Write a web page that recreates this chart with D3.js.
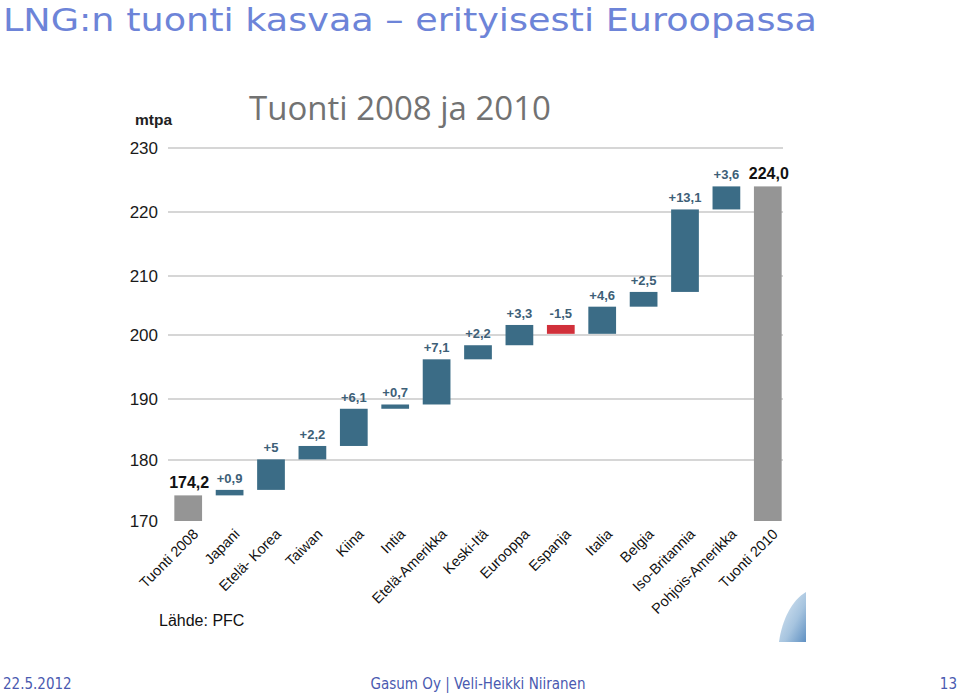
<!DOCTYPE html>
<html>
<head>
<meta charset="utf-8">
<script src="https://cdn.jsdelivr.net/npm/d3@7"></script>
<style>
  body { margin: 0; background: #fff; }
  svg { display: block; }
</style>
</head>
<body>
<svg id="chart" width="960" height="694"></svg>
<script>
// waterfall data
var categories = ['Tuonti 2008', 'Japani', 'Etelä- Korea', 'Taiwan', 'Kiina', 'Intia',
    'Etelä-Amerikka', 'Keski-Itä', 'Eurooppa', 'Espanja', 'Italia', 'Belgia',
    'Iso-Britannia', 'Pohjois-Amerikka', 'Tuonti 2010'];
var changes = [174.2, 0.9, 5, 2.2, 6.1, 0.7, 7.1, 2.2, 3.3, -1.5, 4.6, 2.5, 13.1, 3.6, 224.0];
var kinds = ['total', 'up', 'up', 'up', 'up', 'up', 'up', 'up', 'up', 'down', 'up', 'up', 'up', 'up', 'total'];
var labels = ['174,2', '+0,9', '+5', '+2,2', '+6,1', '+0,7', '+7,1', '+2,2', '+3,3', '-1,5',
    '+4,6', '+2,5', '+13,1', '+3,6', '224,0'];
var yTicks = [170, 180, 190, 200, 210, 220, 230];

var colors = { total: '#959595', up: '#3b6c86', down: '#d1303a' };

var svg = d3.select('#chart');

// the picture's axis is slightly uneven, so map it piece by piece
var y = d3.scaleLinear()
    .domain(yTicks)
    .range([521, 460, 399, 335, 276, 212, 148]);

var x = d3.scaleBand()
    .domain(categories)
    .range([167.5, 788.5])
    .paddingInner(0.33)
    .paddingOuter(0.165);

// running totals
var bars = [];
var run = 0;
categories.forEach(function(c, i) {
    var lo, hi;
    if (kinds[i] === 'total') {
        lo = 170; hi = changes[i]; run = changes[i];
    } else {
        var next = run + changes[i];
        lo = Math.min(run, next); hi = Math.max(run, next);
        run = next;
    }
    bars.push({ cat: c, lo: lo, hi: hi, kind: kinds[i], label: labels[i] });
});

// titles
svg.append('text')
    .attr('x', 3).attr('y', 31)
    .attr('font-family', 'DejaVu Sans')
    .attr('font-size', 32)
    .attr('textLength', 814)
    .attr('lengthAdjust', 'spacingAndGlyphs')
    .attr('fill', '#6d84d8')
    .text('LNG:n tuonti kasvaa – erityisesti Euroopassa');

svg.append('text')
    .attr('x', 249).attr('y', 120)
    .attr('font-family', 'Open Sans, sans-serif')
    .attr('font-size', 33)
    .attr('fill', '#727272')
    .text('Tuonti 2008 ja 2010');

svg.append('text')
    .attr('x', 135).attr('y', 125)
    .attr('font-family', 'Liberation Sans, Arial')
    .attr('font-size', 15.5)
    .attr('font-weight', 'bold')
    .attr('fill', '#222')
    .text('mtpa');

// grid
svg.append('g')
    .selectAll('line')
    .data(yTicks.slice(1))
    .join('line')
    .attr('x1', 168).attr('x2', 783)
    .attr('y1', function(d) { return y(d); })
    .attr('y2', function(d) { return y(d); })
    .attr('stroke', '#c8c8c8')
    .attr('stroke-width', 1.5);

var yAxis = svg.append('g')
    .attr('transform', 'translate(160,0)')
    .call(d3.axisLeft(y).tickValues(yTicks).tickSize(0).tickPadding(2));
yAxis.select('.domain').remove();
yAxis.selectAll('text')
    .attr('font-family', 'Liberation Sans, Arial')
    .attr('font-size', 17)
    .attr('fill', '#1a1a1a');

// bars
svg.append('g')
    .selectAll('rect')
    .data(bars)
    .join('rect')
    .attr('x', function(d) { return x(d.cat); })
    .attr('width', x.bandwidth())
    .attr('y', function(d) { return y(d.hi); })
    .attr('height', function(d) { return y(d.lo) - y(d.hi); })
    .attr('fill', function(d) { return colors[d.kind]; });

// value labels
svg.append('g')
    .selectAll('text')
    .data(bars)
    .join('text')
    .attr('x', function(d) { return x(d.cat) + x.bandwidth() / 2 + (d.kind === 'total' ? 1 : 0); })
    .attr('y', function(d) { return y(d.hi) - 7; })
    .attr('text-anchor', 'middle')
    .attr('font-family', 'Liberation Sans, Arial')
    .attr('font-weight', 'bold')
    .attr('font-size', function(d) { return d.kind === 'total' ? 16 : 13; })
    .attr('fill', function(d) { return d.kind === 'total' ? '#111' : '#3d6077'; })
    .text(function(d) { return d.label; });

// category labels
svg.append('g')
    .selectAll('text')
    .data(categories)
    .join('text')
    .attr('transform', function(d) {
        return 'translate(' + (x(d) + x.bandwidth() / 2 + 11) + ',535) rotate(-45)';
    })
    .attr('text-anchor', 'end')
    .attr('font-family', 'Liberation Sans, Arial')
    .attr('font-size', 14.5)
    .attr('fill', '#111')
    .text(function(d) { return d; });

svg.append('text')
    .attr('x', 159).attr('y', 626)
    .attr('font-family', 'Liberation Sans, Arial')
    .attr('font-size', 16)
    .attr('fill', '#111')
    .text('Lähde: PFC');

// logo swoosh fragment
var grad = svg.append('defs').append('linearGradient')
    .attr('id', 'sw').attr('x1', 0).attr('y1', 0).attr('x2', 1).attr('y2', 1);
grad.append('stop').attr('offset', 0).attr('stop-color', '#e4eef6');
grad.append('stop').attr('offset', 0.6).attr('stop-color', '#a6c4df');
grad.append('stop').attr('offset', 1).attr('stop-color', '#5f90c2');
svg.append('path')
    .attr('d', 'M806,592 C792,600 782,620 779,642 L806,642 Z')
    .attr('fill', 'url(#sw)');

// footer
var foot = svg.append('g')
    .attr('font-family', 'DejaVu Sans Condensed, DejaVu Sans')
    .attr('font-size', 15)
    .attr('fill', '#4a5ab0');
foot.append('text').attr('x', 3).attr('y', 689).text('22.5.2012');
foot.append('text').attr('x', 478).attr('y', 689).attr('text-anchor', 'middle')
    .text('Gasum Oy | Veli-Heikki Niiranen');
foot.append('text').attr('x', 957).attr('y', 689).attr('text-anchor', 'end').text('13');
</script>
</body>
</html>
